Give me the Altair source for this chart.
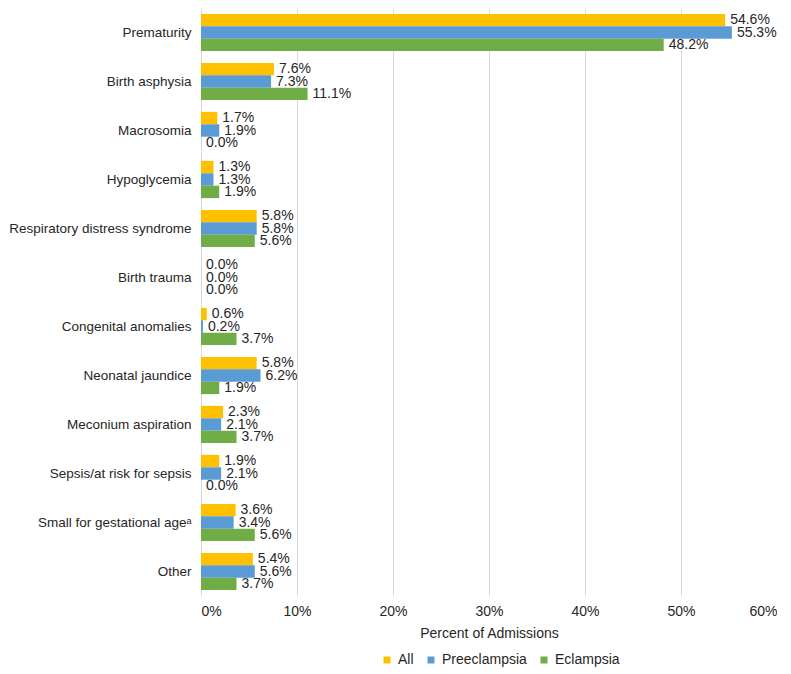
import altair as alt
import pandas as pd

categories = [
    "Prematurity", "Birth asphysia", "Macrosomia", "Hypoglycemia",
    "Respiratory distress syndrome", "Birth trauma", "Congenital anomalies",
    "Neonatal jaundice", "Meconium aspiration", "Sepsis/at risk for sepsis",
    "Small for gestational age\u1d43", "Other",
]
series = ["All", "Preeclampsia", "Eclampsia"]
all_vals = [54.6, 7.6, 1.7, 1.3, 5.8, 0.0, 0.6, 5.8, 2.3, 1.9, 3.6, 5.4]
pre_vals = [55.3, 7.3, 1.9, 1.3, 5.8, 0.0, 0.2, 6.2, 2.1, 2.1, 3.4, 5.6]
ecl_vals = [48.2, 11.1, 0.0, 1.9, 5.6, 0.0, 3.7, 1.9, 3.7, 0.0, 5.6, 3.7]
colors = ["#FFC000", "#5B9BD5", "#70AD47"]

rows = []
for s, vals in zip(series, [all_vals, pre_vals, ecl_vals]):
    for c, v in zip(categories, vals):
        rows.append({"cat": c, "series": s, "value": v, "label": f"{v:.1f}%"})
df = pd.DataFrame(rows)

FONT = "Liberation Sans"
TXT = "#262626"
FS = 14

y_enc = alt.Y("cat:N", sort=categories, title=None,
              scale=alt.Scale(paddingInner=0.24, paddingOuter=0.12),
              axis=alt.Axis(labelFontSize=13.5, labelColor=TXT, labelFont=FONT,
                            ticks=False, domain=False, labelPadding=10,
                            minExtent=193, maxExtent=193, labelLimit=300))
yoff = alt.YOffset("series:N", sort=series, scale=alt.Scale(paddingInner=0, paddingOuter=0))
x_enc = alt.X("value:Q", title="Percent of Admissions",
              scale=alt.Scale(domain=[0, 60], nice=False),
              axis=alt.Axis(values=[0, 10, 20, 30, 40, 50, 60],
                            labelExpr="datum.value + '%'",
                            labelFontSize=FS, labelColor=TXT, labelFont=FONT,
                            titleFontSize=FS, titleColor=TXT, titleFont=FONT,
                            titleFontWeight="normal",
                            ticks=False, domain=False, grid=True,
                            gridColor="#D9D9D9", gridWidth=1,
                            labelPadding=8, titlePadding=8))

base = alt.Chart(df)
bars = base.mark_bar().encode(
    y=y_enc, yOffset=yoff, x=x_enc,
    color=alt.Color("series:N", sort=series,
                    scale=alt.Scale(domain=series, range=colors),
                    legend=alt.Legend(title=None, orient="none", direction="horizontal",
                                      legendX=179, legendY=645,
                                      symbolType="square", symbolSize=49,
                                      symbolStrokeWidth=0,
                                      labelFontSize=FS, labelColor=TXT, labelFont=FONT,
                                      columnPadding=10, symbolOffset=0, labelOffset=4)),
)
texts = base.mark_text(align="left", baseline="middle", dx=5, fontSize=FS,
                       font=FONT, color=TXT).encode(
    y=alt.Y("cat:N", sort=categories), yOffset=alt.YOffset("series:N", sort=series),
    x=alt.X("value:Q"), text="label:N",
)

chart = (bars + texts).properties(width=576, height=588, padding=0).configure_view(
    stroke=None
)
chart.save("out.html", embed_options={"renderer": "svg", "actions": False})
